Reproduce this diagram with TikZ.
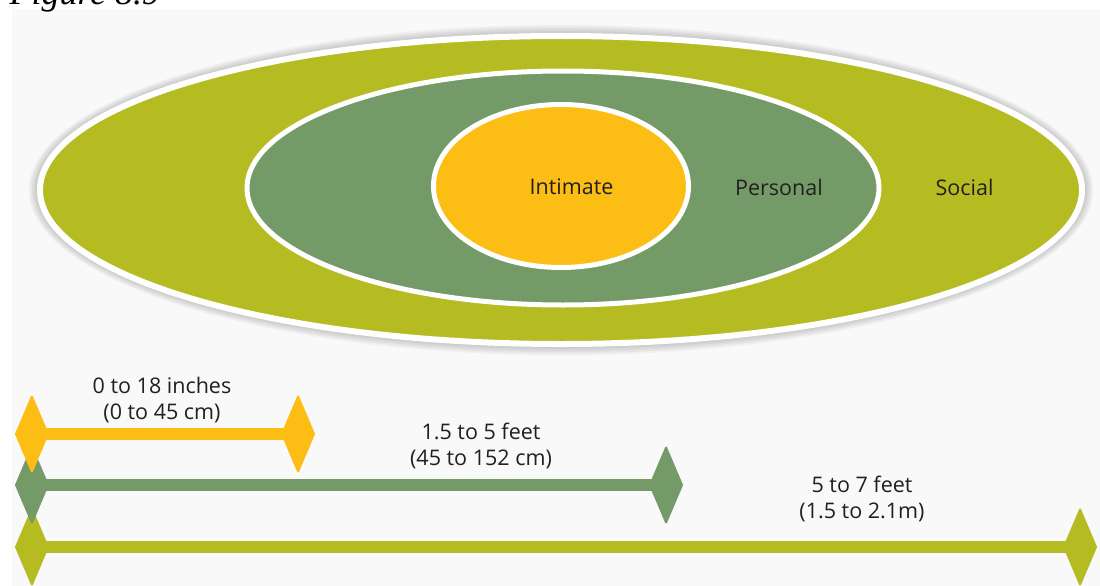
\documentclass[tikz,border=0pt]{standalone}
\usepackage{fontspec}
\setsansfont{Open Sans}
\newfontfamily\captionfont{Liberation Serif}
\usetikzlibrary{shapes.geometric,arrows.meta}
\definecolor{socialc}{HTML}{B5BC22}
\definecolor{personalc}{HTML}{749A68}
\definecolor{intimatec}{HTML}{FCBE14}
\definecolor{panelc}{HTML}{F9F9F9}
\definecolor{ink}{HTML}{231F20}

\begin{document}
\begin{tikzpicture}[x=1pt,y=-1pt,>={Kite[length=34pt,width=80pt,inset=17pt,line width'=2pt,round]},
  zone/.style={ellipse,draw=white,line width=5pt,inner sep=0pt},
  lbl/.style={font=\sffamily\fontsize{21.5}{26.5}\selectfont,text=ink,align=center},
  span/.style={<->,line width=12pt}]

\clip (0,0) rectangle (1100,586);
\fill[white] (0,0) rectangle (1100,586);
\fill[panelc] (12,9) rectangle (1100,586);
\node[anchor=base west,font=\captionfont\itshape\fontsize{36}{40}\selectfont] (fig) at (6,5) {Figure 8.9};

% soft glow round the outer zone
\foreach \g in {1,...,7}
  \fill[black,opacity=0.035] (561,190) ellipse [x radius=521+1.6*\g, y radius=154+1.6*\g];

\node[zone,fill=socialc,line width=6pt,minimum width=1042pt,minimum height=308pt] (social) at (561,190) {};
\node[zone,fill=personalc,minimum width=632pt,minimum height=234pt] (personal) at (563,188) {};
\node[zone,fill=intimatec,minimum width=255pt,minimum height=163pt] (intimate) at (561,186) {};

\node[lbl] (tint) at (571.5,187) {Intimate};
\node[lbl] (tper) at (779,187) {Personal};
\node[lbl] (tsoc) at (964.5,187) {Social};

% distance bars
\coordinate (s1) at (15,547);
\coordinate (s2) at (1097,547);
\coordinate (p1) at (15,485);
\coordinate (p2) at (683,485);
\coordinate (i1) at (15,434);
\coordinate (i2) at (315,434);
\draw[span,socialc] (s1) -- (s2);
\draw[span,personalc] (p1) -- (p2);
\draw[span,intimatec] (i1) -- (i2);

\node[lbl] (dint) at (162,400) {0 to 18 inches\\(0 to 45 cm)};
\node[lbl] (dper) at (481,446) {1.5 to 5 feet\\(45 to 152 cm)};
\node[lbl] (dsoc) at (862,499) {5 to 7 feet\\(1.5 to 2.1m)};
\end{tikzpicture}
\end{document}
